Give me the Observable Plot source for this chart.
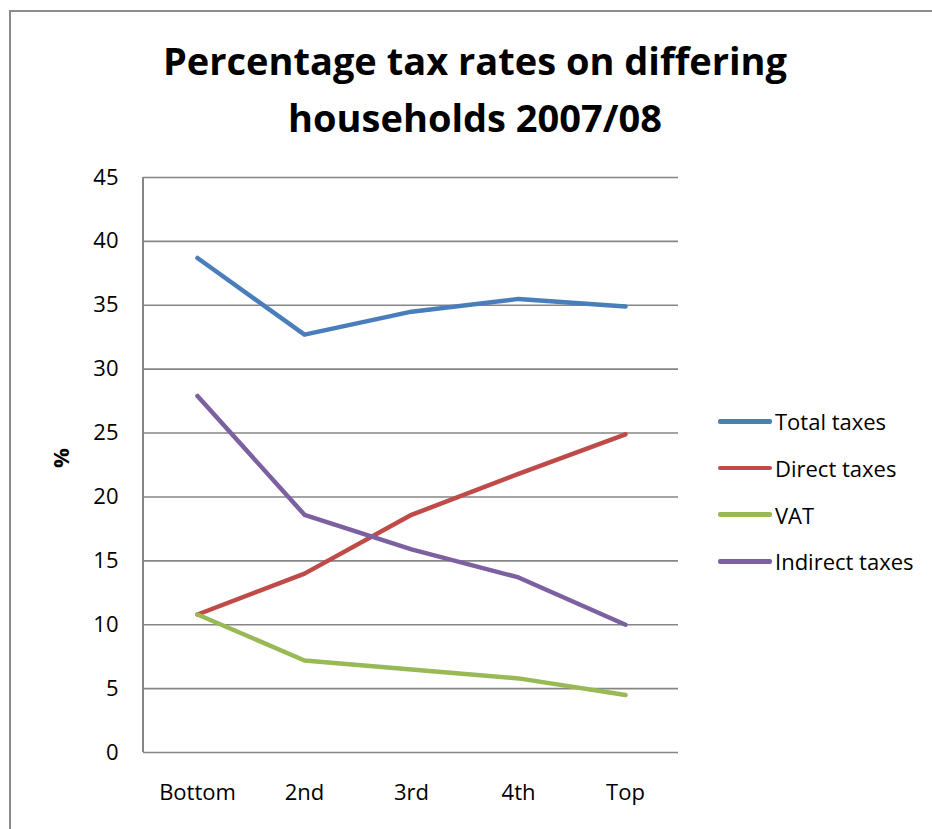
<!DOCTYPE html>
<html>
<head>
<meta charset="utf-8">
<script src="https://cdn.jsdelivr.net/npm/d3@7"></script>
<script src="https://cdn.jsdelivr.net/npm/@observablehq/plot@0.6"></script>
<style>
  html, body { margin: 0; padding: 0; background: #fff; }
  #wrap { position: relative; width: 932px; height: 829px; overflow: hidden; font-family: "Open Sans", sans-serif; color: #000; }
  #border { position: absolute; left: 9px; top: 10px; right: -10px; bottom: -10px; border-left: 2px solid #8c8c8c; border-top: 2px solid #8c8c8c; }
  #title { position: absolute; left: 0; top: 0; width: 950px; text-align: center; font-weight: bold; font-size: 38px; line-height: 57px; padding-top: 32px; }
  #chart { position: absolute; left: 0; top: 0; }
  #ylabel { position: absolute; left: 48px; top: 446px; width: 24px; height: 24px; text-align: center; line-height: 24px; font-weight: bold; font-size: 22px; transform: rotate(-90deg); }
  #legend { position: absolute; left: 718px; top: 398px; font-size: 22px; }
  .item { display: flex; align-items: center; height: 46.7px; }
  .sw { width: 54px; height: 4.5px; border-radius: 2px; margin-right: 3px; }
</style>
</head>
<body>
<div id="wrap">
  <div id="border"></div>
  <div id="chart"></div>
  <div id="title">Percentage tax rates on differing<br>households 2007/08</div>
  <div id="ylabel">%</div>
  <div id="legend"></div>
</div>
<script>
const categories = ["Bottom", "2nd", "3rd", "4th", "Top"];
const seriesNames = ["Total taxes", "Direct taxes", "VAT", "Indirect taxes"];
const totalTaxes = [38.7, 32.7, 34.5, 35.5, 34.9];
const directTaxes = [10.8, 14.0, 18.6, 21.8, 24.9];
const vat = [10.8, 7.2, 6.5, 5.8, 4.5];
const indirectTaxes = [27.9, 18.6, 15.9, 13.7, 10.0];
const yTicks = [0, 5, 10, 15, 20, 25, 30, 35, 40, 45];
const colors = ["#4A7EBB", "#BE4B48", "#98B954", "#7D60A0"];

const seriesValues = [totalTaxes, directTaxes, vat, indirectTaxes];
const data = [];
seriesNames.forEach((s, si) => categories.forEach((c, ci) => data.push({series: s, cat: c, value: seriesValues[si][ci]})));

const marginLeft = 143, marginRight = 254, marginTop = 177, marginBottom = 77;

const leftAxisLine = (index, scales, values, dims) => {
  const y = scales.y;
  return d3.create("svg:line")
    .attr("x1", dims.marginLeft).attr("x2", dims.marginLeft)
    .attr("y1", y(yTicks[0])).attr("y2", y(yTicks[yTicks.length - 1]))
    .attr("stroke", "#868686").attr("stroke-width", 2).node();
};

const chart = Plot.plot({
  width: 932,
  height: 829,
  marginLeft, marginRight, marginTop, marginBottom,
  style: {fontFamily: "Open Sans, sans-serif", fontSize: "22px", color: "#000", background: "transparent"},
  x: {type: "point", domain: categories, padding: 0.5, label: null},
  y: {domain: [0, 45], label: null},
  color: {domain: seriesNames, range: colors},
  marks: [
    Plot.ruleY(yTicks, {stroke: "#868686", strokeWidth: 1.6}),
    leftAxisLine,
    Plot.axisY(yTicks, {tickSize: 0, tickPadding: 25, fontSize: 22, label: null, fill: "#000"}),
    Plot.axisX({tickSize: 0, tickPadding: 32, fontSize: 22, label: null, fill: "#000"}),
    Plot.line(data, {x: "cat", y: "value", z: "series", stroke: "series", strokeWidth: 4.5, strokeLinecap: "round", strokeLinejoin: "round"})
  ]
});
document.getElementById("chart").appendChild(chart);

const legend = d3.select("#legend");
seriesNames.forEach((s, i) => {
  const it = legend.append("div").attr("class", "item");
  it.append("div").attr("class", "sw").style("background", colors[i]);
  it.append("span").text(s);
});
</script>
</body>
</html>
